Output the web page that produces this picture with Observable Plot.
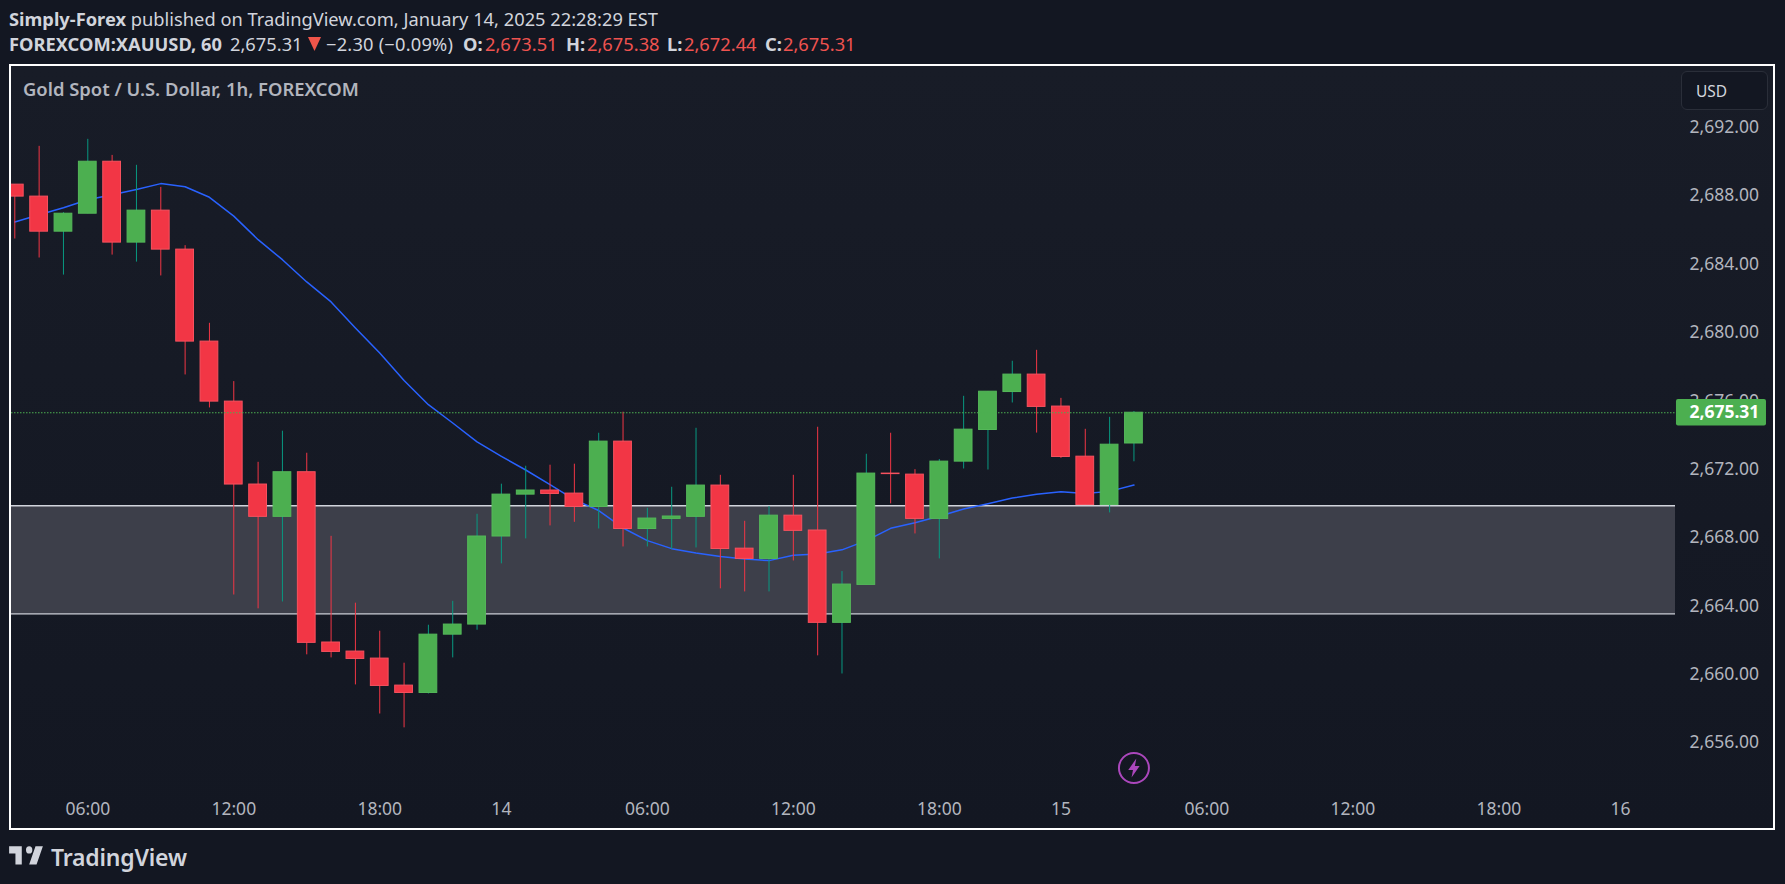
<!DOCTYPE html>
<html>
<head>
<meta charset="utf-8">
<script src="https://cdn.jsdelivr.net/npm/d3@7"></script>
<script src="https://cdn.jsdelivr.net/npm/@observablehq/plot@0.6"></script>
<style>
html,body{margin:0;padding:0;background:#131722;width:1785px;height:884px;overflow:hidden;font-family:"Noto Sans",sans-serif;}
#head{position:relative;height:64px;}
#head span{position:absolute;white-space:nowrap;font-size:18.3px;line-height:22px;color:#d1d4dc;}
#head b{font-weight:700;}
#pane{position:absolute;left:9px;top:64px;width:1762px;height:762px;border:2px solid #fff;background:linear-gradient(#181c27,#131722);}
#pane svg{display:block;}
#sym{position:absolute;left:12px;top:10px;font-size:18.4px;font-weight:600;color:#b2b5be;white-space:nowrap;}
#usd{position:absolute;left:1670px;top:5px;width:85px;height:37px;border:1px solid #2a2e39;border-radius:6px;background:#131722;color:#d1d4dc;font-size:15.5px;line-height:39px;text-indent:14px;}
#brand{position:absolute;left:7px;top:840px;height:34px;}
#brand span{position:absolute;left:44px;top:2px;font-size:23px;line-height:30px;font-weight:600;color:#d1d4dc;letter-spacing:-.2px;white-space:nowrap;}
</style>
</head>
<body>
<div id="head">
<span style="left:9px;top:8px"><b>Simply-Forex</b> published on TradingView.com, January 14, 2025 22:28:29 EST</span>
<span style="left:9px;top:33px"><b>FOREXCOM:XAUUSD, 60</b></span>
<span style="left:230px;top:33px">2,675.31</span>
<svg width="13" height="14" viewBox="0 0 13 14" style="position:absolute;left:308px;top:37px"><path fill="#f0554a" d="M0 0H13L6.5 14Z"/></svg>
<span style="left:326px;top:33px;letter-spacing:.2px">−2.30 (−0.09%)</span>
<span style="left:463px;top:33px"><b>O:</b></span>
<span style="left:485px;top:33px;color:#ef5350">2,673.51</span>
<span style="left:566px;top:33px"><b>H:</b></span>
<span style="left:587px;top:33px;color:#ef5350">2,675.38</span>
<span style="left:667px;top:33px"><b>L:</b></span>
<span style="left:684px;top:33px;color:#ef5350">2,672.44</span>
<span style="left:765px;top:33px"><b>C:</b></span>
<span style="left:783px;top:33px;color:#ef5350">2,675.31</span>
</div>
<div id="pane">
<div id="sym">Gold Spot / U.S. Dollar, 1h, FOREXCOM</div>
<div id="usd">USD</div>
</div>
<div id="brand">
<svg width="38" height="34" viewBox="0 0 36 28" preserveAspectRatio="none" style="position:absolute;left:0;top:-1px"><path fill="#d1d4dc" d="M14 6H2v6h6v9h6V6zm14 15h-7l6-15h7l-6 15zm-7-9a3 3 0 1 0 0-6 3 3 0 0 0 0 6z"/></svg>
<span>TradingView</span>
</div>
<script>
const opens  = [2688.65,2687.95,2685.90,2686.95,2689.99,2685.26,2687.13,2684.85,2679.47,2675.96,2671.11,2669.22,2671.83,2661.87,2661.34,2660.93,2659.35,2658.92,2662.33,2662.92,2668.07,2670.52,2670.76,2670.58,2669.80,2673.62,2668.51,2669.10,2669.22,2671.05,2667.36,2666.76,2669.29,2668.42,2663.02,2665.24,2671.75,2671.69,2669.10,2672.45,2674.30,2676.52,2677.54,2675.67,2672.74,2669.91,2673.51];
const highs  = [2688.65,2690.89,2687.01,2691.30,2690.36,2689.78,2688.49,2685.08,2680.54,2677.13,2672.41,2674.23,2672.94,2668.08,2664.17,2662.53,2660.66,2662.88,2664.28,2669.37,2671.13,2672.18,2672.24,2672.30,2674.11,2675.34,2669.72,2670.95,2674.40,2671.65,2668.96,2669.82,2671.65,2674.46,2666.02,2672.88,2674.11,2671.98,2672.57,2676.27,2676.54,2678.32,2678.96,2676.15,2674.34,2675.04,2675.38];
const lows   = [2685.47,2684.36,2683.36,2686.95,2684.53,2684.12,2683.31,2677.52,2675.59,2664.65,2663.84,2664.24,2661.15,2660.97,2659.39,2657.69,2656.88,2658.86,2660.97,2662.59,2666.47,2667.93,2668.69,2668.90,2668.51,2667.46,2667.46,2667.31,2667.40,2665.01,2664.83,2664.83,2666.64,2661.09,2660.03,2665.24,2669.98,2668.22,2666.76,2672.02,2671.96,2675.88,2674.12,2672.64,2669.91,2669.45,2672.44];
const closes = [2687.95,2685.90,2686.95,2689.99,2685.26,2687.13,2684.85,2679.47,2675.96,2671.11,2669.22,2671.83,2661.85,2661.32,2660.91,2659.33,2658.92,2662.33,2662.92,2668.07,2670.52,2670.76,2670.56,2669.80,2673.62,2668.51,2669.12,2669.24,2671.05,2667.34,2666.76,2669.29,2668.40,2663.02,2665.26,2671.75,2671.72,2669.10,2672.45,2674.32,2676.54,2677.54,2675.65,2672.72,2669.91,2673.44,2675.31];
const maLine = [2686.46,2686.89,2687.30,2687.77,2688.06,2688.37,2688.71,2688.53,2687.91,2686.81,2685.43,2684.26,2682.96,2681.79,2680.27,2678.80,2677.19,2675.78,2674.71,2673.60,2672.76,2671.96,2671.11,2670.23,2669.59,2668.57,2667.83,2667.36,2667.11,2666.90,2666.76,2666.66,2666.97,2667.05,2667.29,2667.83,2668.55,2668.88,2669.25,2669.68,2669.99,2670.32,2670.54,2670.69,2670.58,2670.71,2671.08];
const priceTicks = [2656,2660,2664,2668,2672,2676,2680,2684,2688,2692];
const timeTickBars = [3,9,15,20,26,32,38,43,49,55,61,66];
const timeTickLabels = ["06:00","12:00","18:00","14","06:00","12:00","18:00","15","06:00","12:00","18:00","16"];
const zoneTop = 2669.87, zoneBottom = 2663.55, lastPrice = 2675.31, markerPrice = 2654.53, markerBar = 46;

const candles = opens.map((o,i)=>({i,o,h:highs[i],l:lows[i],c:closes[i]}));
const ma = maLine.map((v,i)=>({i,v}));
const tickLabel = new Map(timeTickBars.map((b,i)=>[b,timeTickLabels[i]]));
const up = d => d.c >= d.o;
const bolt = {draw(ctx,size){const r=Math.sqrt(size/Math.PI);
  [[0.25,-1],[-0.6,0.2],[-0.1,0.2],[-0.25,1],[0.6,-0.2],[0.1,-0.2]].forEach(([a,b],k)=>k?ctx.lineTo(a*r,b*r):ctx.moveTo(a*r,b*r));ctx.closePath();}};
const half = 0.365;

const chart = Plot.plot({
  width:1762, height:762,
  marginLeft:0, marginRight:98, marginTop:0, marginBottom:28,
  style:{background:"transparent",fontFamily:'"Noto Sans",sans-serif',fontSize:"17.5px",overflow:"visible"},
  x:{type:"linear",domain:[-0.136,68.26]},
  y:{type:"linear",domain:[2652.63,2695.56]},
  marks:[
    Plot.rect([0],{y1:()=>zoneBottom,y2:()=>zoneTop,fill:"#3d3f4a"}),
    Plot.ruleY([zoneTop,zoneBottom],{stroke:"#d1d4dc",strokeWidth:1.3}),
    Plot.line(ma,{x:"i",y:"v",stroke:"#2962ff",strokeWidth:1.5,curve:"linear"}),
    Plot.ruleX(candles,{x:"i",y1:"l",y2:"h",stroke:d=>up(d)?"#089981":"#f23645",strokeWidth:1,clip:true}),
    Plot.rect(candles,{x1:d=>d.i-half,x2:d=>d.i+half,y1:"o",y2:"c",
      fill:d=>up(d)?"#4caf50":"#f23645",stroke:d=>up(d)?"#55b85a":"#f7525f",strokeWidth:1,clip:true}),
    Plot.ruleY([lastPrice],{stroke:"#4caf50",strokeWidth:1.2,strokeDasharray:"1.5 1.5"}),
    Plot.axisY({anchor:"right",ticks:priceTicks,tickSize:0,tickPadding:14,label:null,fill:"#b2b5be",fontSize:17.5,tickFormat:d3.format(",.2f")}),
    Plot.axisX({anchor:"bottom",ticks:timeTickBars,tickSize:0,tickPadding:2,label:null,fill:"#b2b5be",fontSize:17.5,tickFormat:d=>tickLabel.get(d)}),
    Plot.rect([0],{x1:()=>68.3,x2:()=>72,y1:()=>lastPrice-0.78,y2:()=>lastPrice+0.78,fill:"#4caf50",rx:2}),
    Plot.text([lastPrice],{x:()=>70.27,y:d=>d,text:d=>d3.format(",.2f")(d),fill:"#fff",fontWeight:700,fontSize:17.5}),
    Plot.dot([0],{x:()=>markerBar,y:()=>markerPrice,r:15,stroke:"#ab47bc",strokeWidth:2,fill:"none"}),
    Plot.dot([0],{x:()=>markerBar,y:()=>markerPrice,r:9.5,symbol:bolt,fill:"#ab47bc",stroke:"none"})
  ]
});
document.getElementById("pane").appendChild(chart);
</script>
</body>
</html>
